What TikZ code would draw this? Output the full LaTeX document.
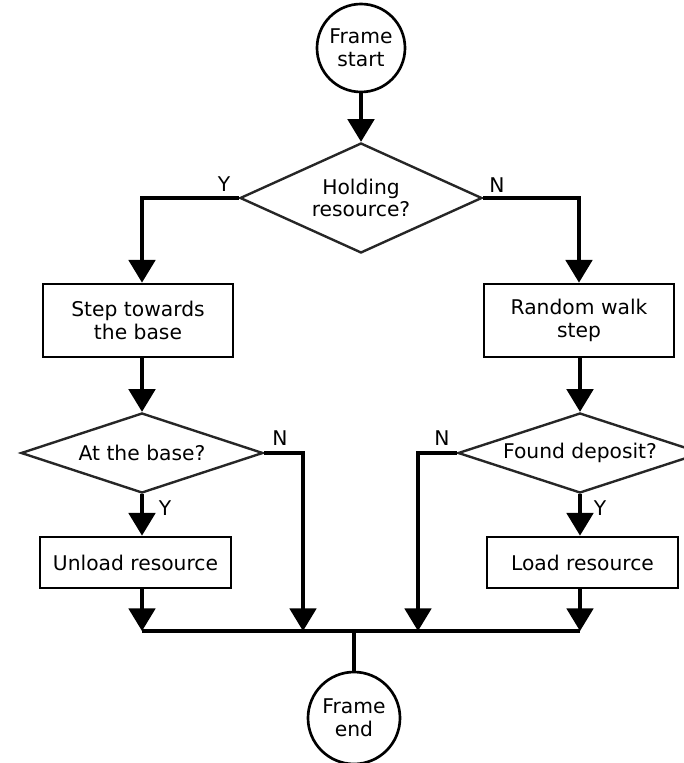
\documentclass[tikz,border=0pt]{standalone}
\usepackage{fontspec}
\setmainfont{DejaVu Sans}
\usetikzlibrary{shapes.geometric,arrows.meta}
\begin{document}
\begin{tikzpicture}[x=0.75pt,y=-0.75pt,
  every node/.style={font=\fontsize{15.2pt}{17pt}\selectfont, text=black},
  terminal/.style={circle,draw,line width=2pt,minimum size=66pt,inner sep=0pt,align=center},
  process/.style={rectangle,draw,line width=2.1pt,inner sep=0pt,align=center},
  decision/.style={diamond,draw=black!85,line width=1.8pt,inner sep=0pt,align=center},
  flow/.style={line width=2.3pt},
  arr/.style={flow,-{Triangle[width=20pt,length=17pt]}},
  lbl/.style={inner sep=0pt}
]
\useasboundingbox (0,0) rectangle (683,763);

% nodes
\node[terminal] (start) at (361,48) {Frame\\start};
\node[decision,shape aspect=2.2,minimum width=181.5pt,minimum height=82.5pt] (hold) at (361,198) {Holding\\resource?};
\node[process,minimum width=142.5pt,minimum height=54.75pt] (toward) at (138,320.5) {Step towards\\the base};
\node[process,minimum width=142.5pt,minimum height=54.75pt] (walk) at (579,320.5) {Random walk\\step};
\node[decision,shape aspect=3.02,minimum width=181.5pt,minimum height=60pt] (atbase) at (142,453) {At the base?};
\node[decision,shape aspect=3.05,minimum width=183pt,minimum height=60pt] (found) at (580,453) {Found deposit?};
\node[process,minimum width=143.25pt,minimum height=38.25pt] (unload) at (135.5,562.5) {Unload resource};
\node[process,minimum width=143.25pt,minimum height=38.25pt] (load) at (582.5,562.5) {Load resource};
\node[terminal,minimum size=69pt] (finish) at (354,718) {Frame\\end};

% branch labels
\node[lbl] (yHold) at (224,184) {Y};
\node[lbl] (nHold) at (497,185) {N};
\node[lbl] (nBase) at (280,438) {N};
\node[lbl] (yBase) at (165,508) {Y};
\node[lbl] (nFound) at (442,438) {N};
\node[lbl] (yFound) at (600,508) {Y};

% collecting bus above the end node
\coordinate (busW) at (142,631);
\coordinate (busE) at (580,631);
\coordinate (busM) at (354,631);
\coordinate (noBase) at (303,631);
\coordinate (noDep) at (418,631);

% connectors
\draw[arr] (start) -- (hold);
\draw[arr] (hold.west) -| (atbase.north |- toward.north);
\draw[arr] (hold.east) -| (walk.north);
\draw[arr] (toward.south -| atbase.north) -- (atbase.north);
\draw[arr] (walk.south -| found.north) -- (found.north);
\draw[arr] (atbase.south) -- (atbase.south |- unload.north);
\draw[arr] (found.south) -- (found.south |- load.north);
\draw[arr] (atbase.east) -| (noBase);
\draw[arr] (found.west) -| (noDep);
\draw[arr] (unload.south -| atbase.south) -- (busW);
\draw[arr] (load.south -| found.south) -- (busE);
\draw[flow] (busW) -- (busE);
\draw[flow] (busM) -- (finish.north);
\end{tikzpicture}
\end{document}
